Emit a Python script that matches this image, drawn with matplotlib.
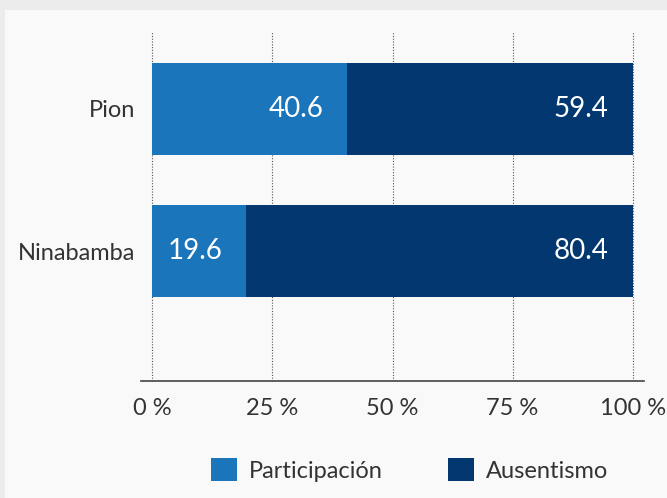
import matplotlib.pyplot as plt
from matplotlib.patches import Rectangle, Patch

plt.rcParams['font.family'] = ['Lato', 'DejaVu Sans']

lugares = ["Pion", "Ninabamba"]
participacion = [40.6, 19.6]
ausentismo = [59.4, 80.4]
series = ["Participación", "Ausentismo"]
colores = ["#1b75bb", "#03376f"]
ticks = [0, 25, 50, 75, 100]
tick_labels = ["0 %", "25 %", "50 %", "75 %", "100 %"]

fig = plt.figure(figsize=(6.67, 4.98), dpi=100)
fig.patch.set_facecolor("#ececec")
fig.add_artist(Rectangle((5 / 667, 0), 1, 1 - 10 / 498, transform=fig.transFigure,
                         facecolor="#f9f9f9", edgecolor="none", zorder=0))

ax = fig.add_axes([141 / 667, 1 - 381 / 498, 503 / 667, 349 / 498])
ax.set_facecolor("none")

y = [1, 0]
h = 0.648
b1 = ax.barh(y, participacion, height=h, color=colores[0], zorder=2)
b2 = ax.barh(y, ausentismo, left=participacion, height=h, color=colores[1], zorder=2)

for yi, p, a in zip(y, participacion, ausentismo):
    ax.text(p - 5, yi, f"{p}", ha="right", va="center", color="white",
            fontsize=20, zorder=3)
    ax.text(p + a - 5, yi, f"{a}", ha="right", va="center", color="white",
            fontsize=20, zorder=3)

ax.set_xlim(-2.35, 102.35)
ax.set_ylim(-0.915, 1.542)
ax.set_yticks(y)
ax.set_yticklabels(lugares, fontsize=17, color="#333333")
ax.set_xticks(ticks)
ax.set_xticklabels(tick_labels, fontsize=17, color="#333333")
ax.tick_params(axis="x", length=0, pad=12)
ax.tick_params(axis="y", length=0, pad=4)
ax.grid(axis="x", linestyle=(0, (1, 1.5)), color="#555555", linewidth=0.8, zorder=1)
for s in ["top", "right", "left"]:
    ax.spines[s].set_visible(False)
ax.spines["bottom"].set_color("#444444")
ax.spines["bottom"].set_linewidth(1.2)

handles = [Patch(facecolor=c, label=s) for c, s in zip(colores, series)]
fig.legend(handles=handles, loc="center", bbox_to_anchor=(0.614, 0.056), ncol=2,
           frameon=False, fontsize=17, handlelength=1.1, handleheight=1.1,
           columnspacing=2.75, handletextpad=0.5, labelcolor="#333333")

fig.savefig("out.png", dpi=100, facecolor=fig.get_facecolor())
